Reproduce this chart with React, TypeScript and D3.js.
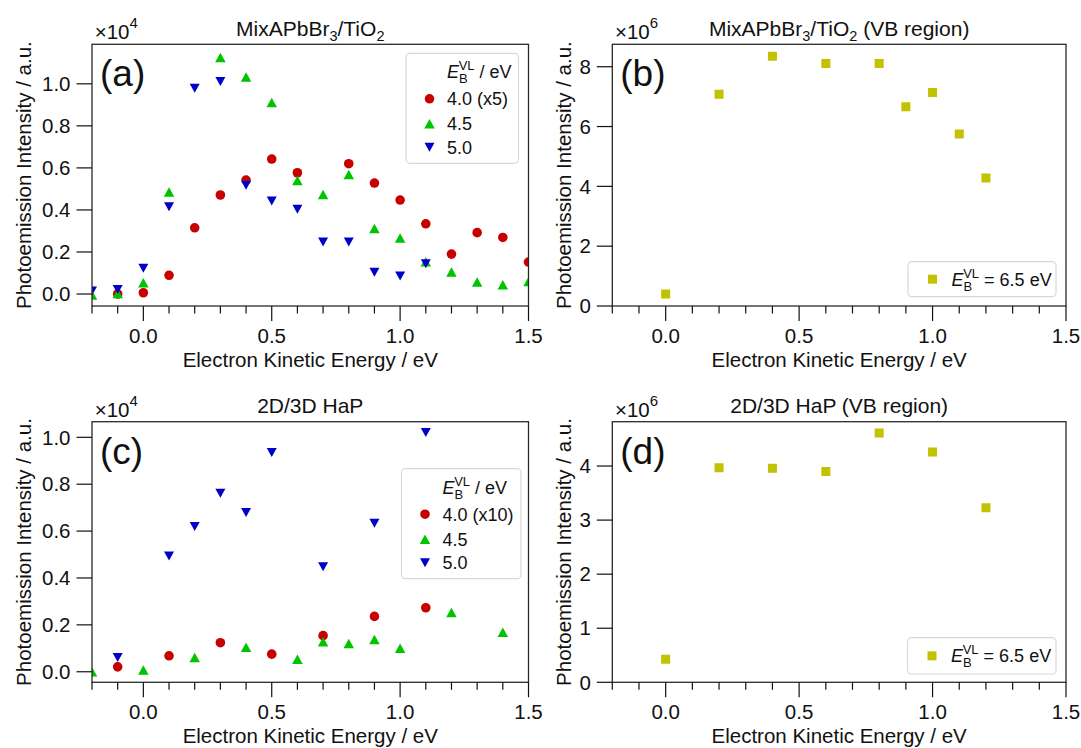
import React from "react";
import * as d3 from "d3";

const FONT = "'Liberation Sans', Arial, Helvetica, sans-serif";

// ---------- data ----------
// Kinetic energy grid for panels (a) and (c)
const energyGrid = [-0.2, -0.1, 0.0, 0.1, 0.2, 0.3, 0.4, 0.5, 0.6, 0.7, 0.8, 0.9, 1.0, 1.1, 1.2, 1.3, 1.4, 1.5];

// Panel (a) MixAPbBr3/TiO2 (units of 1e4)
const aRed40x5 = [null, 0.0, 0.006, 0.089, 0.315, 0.471, 0.542, 0.642, 0.577, null, 0.62, 0.528, 0.447, 0.334, 0.19, 0.292, 0.269, 0.152];
const aGreen45 = [-0.005, 0.003, 0.054, 0.485, null, 1.125, 1.033, 0.911, 0.54, 0.474, 0.569, 0.312, 0.266, 0.154, 0.105, 0.057, 0.044, 0.059];
const aBlue50 = [0.014, 0.021, 0.122, 0.415, 0.979, 1.011, 0.517, 0.442, 0.403, 0.247, 0.247, 0.103, 0.086, 0.144, null, null, null, null];

// Panel (c) 2D/3D HaP (units of 1e4)
const cRed40x10 = [null, 0.021, null, 0.068, null, 0.124, null, 0.075, null, 0.154, null, 0.236, null, 0.273, null, null, null, null];
const cGreen45 = [0.0, null, 0.007, null, 0.061, null, 0.104, null, 0.053, 0.128, 0.121, 0.138, 0.1, null, 0.253, null, 0.169, null];
const cBlue50 = [null, 0.061, null, 0.494, 0.62, 0.761, 0.679, 0.935, null, 0.448, null, 0.633, null, 1.02, null, null, null, null];

// Panel (b) VB region (units of 1e6)
const energyB = [0.0, 0.2, 0.4, 0.6, 0.8, 0.9, 1.0, 1.1, 1.2];
const valuesB = [0.4, 7.08, 8.35, 8.11, 8.11, 6.66, 7.14, 5.75, 4.28];

// Panel (d) VB region (units of 1e6)
const energyD = [0.0, 0.2, 0.4, 0.6, 0.8, 1.0, 1.2];
const valuesD = [0.425, 3.97, 3.96, 3.9, 4.61, 4.26, 3.23];

// ticks
const xMajorTicks = [0.0, 0.5, 1.0, 1.5];
const xMajorLabels = ["0.0", "0.5", "1.0", "1.5"];
const xMinorTicks = [-0.2, -0.1, 0.1, 0.2, 0.3, 0.4, 0.6, 0.7, 0.8, 0.9, 1.1, 1.2, 1.3, 1.4];
const yTicksAC = [0.0, 0.2, 0.4, 0.6, 0.8, 1.0];
const yLabelsAC = ["0.0", "0.2", "0.4", "0.6", "0.8", "1.0"];
const yTicksB = [0, 2, 4, 6, 8];
const yLabelsB = ["0", "2", "4", "6", "8"];
const yTicksD = [0, 1, 2, 3, 4];
const yLabelsD = ["0", "1", "2", "3", "4"];

const RED = "#c80000";
const GREEN = "#00c400";
const BLUE = "#0000c8";
const OLIVE = "#c2c200";

const FS = 20.5;

type Box = { l: number; r: number; t: number; b: number };
type Ser = { xs: number[]; ys: (number | null)[]; color: string; shape: string };

function markerPath(shape: string, cx: number, cy: number): string {
  if (shape === "up") {
    const w = 10.5, h = 9.5;
    return `M${cx},${cy - h / 2}L${cx + w / 2},${cy + h / 2}L${cx - w / 2},${cy + h / 2}Z`;
  }
  if (shape === "down") {
    const w = 10, h = 9;
    return `M${cx - w / 2},${cy - h / 2}L${cx + w / 2},${cy - h / 2}L${cx},${cy + h / 2}Z`;
  }
  if (shape === "square") {
    const s = 9;
    return `M${cx - s / 2},${cy - s / 2}h${s}v${s}h${-s}Z`;
  }
  const p = d3.path();
  p.arc(cx, cy, 4.8, 0, Math.PI * 2);
  return p.toString();
}

function Marker({ shape, color, x, y }: { shape: string; color: string; x: number; y: number }) {
  return <path d={markerPath(shape, x, y)} fill={color} stroke="none" />;
}

function EBLabel({ x, y, tail, size }: { x: number; y: number; tail: string; size: number }) {
  return (
    <text x={x} y={y} fontFamily={FONT} fontSize={size} fill="#111">
      <tspan fontStyle="italic">E</tspan>
      <tspan fontSize={13} dy={5}>B</tspan>
      <tspan fontSize={13} dx={-9} dy={-13}>VL</tspan>
      <tspan dy={8}>{tail}</tspan>
    </text>
  );
}

type PanelProps = {
  id: string;
  box: Box;
  yDomain: [number, number];
  yTicks: number[];
  yLabels: string[];
  series: Ser[];
  title: React.ReactNode;
  expo: string;
  label: string;
  yTitleX: number;
  legend: React.ReactNode;
};

function Panel({ id, box, yDomain, yTicks, yLabels, series, title, expo, label, yTitleX, legend }: PanelProps) {
  const x = d3.scaleLinear().domain([-0.2, 1.5]).range([box.l, box.r]);
  const y = d3.scaleLinear().domain(yDomain).range([box.b, box.t]);
  const cx = (box.l + box.r) / 2;
  const cy = (box.t + box.b) / 2;
  const clipId = `clip-${id}`;
  return (
    <g>
      <defs>
        <clipPath id={clipId}>
          <rect x={box.l} y={box.t} width={box.r - box.l} height={box.b - box.t} />
        </clipPath>
      </defs>
      {/* title */}
      <text x={cx} y={box.t - 8.3} textAnchor="middle" fontFamily={FONT} fontSize={21} fill="#111">
        {title}
      </text>
      {/* exponent */}
      <text x={box.l + 2.7} y={box.t - 5} fontFamily={FONT} fontSize={FS} fill="#111">
        ×10
        <tspan fontSize={15} dy={-11}>{expo}</tspan>
      </text>
      {/* data */}
      <g clipPath={`url(#${clipId})`}>
        {series.map((s, si) =>
          s.xs.map((xv, i) => {
            const yv = s.ys[i];
            if (yv === null || yv === undefined) return null;
            return <Marker key={`${si}-${i}`} shape={s.shape} color={s.color} x={x(xv)} y={y(yv)} />;
          })
        )}
      </g>
      {/* frame */}
      <rect x={box.l} y={box.t} width={box.r - box.l} height={box.b - box.t} fill="none" stroke="#2a2a2a" strokeWidth={1.3} />
      {/* x ticks */}
      {xMajorTicks.map((t, i) => (
        <g key={`xM${i}`}>
          <line x1={x(t)} x2={x(t)} y1={box.b} y2={box.b + 15} stroke="#111" strokeWidth={1.2} />
          <text x={x(t)} y={box.b + 36.5} textAnchor="middle" fontFamily={FONT} fontSize={FS} fill="#111">
            {xMajorLabels[i]}
          </text>
        </g>
      ))}
      {xMinorTicks.map((t, i) => (
        <line key={`xm${i}`} x1={x(t)} x2={x(t)} y1={box.b} y2={box.b + 7.5} stroke="#111" strokeWidth={1.2} />
      ))}
      {/* y ticks */}
      {yTicks.map((t, i) => (
        <g key={`y${i}`}>
          <line x1={box.l - 15.5} x2={box.l} y1={y(t)} y2={y(t)} stroke="#111" strokeWidth={1.2} />
          <text x={box.l - 21.5} y={y(t) + 7.2} textAnchor="end" fontFamily={FONT} fontSize={FS} fill="#111">
            {yLabels[i]}
          </text>
        </g>
      ))}
      {/* axis titles */}
      <text x={cx} y={box.b + 60.5} textAnchor="middle" fontFamily={FONT} fontSize={FS} fill="#111">
        Electron Kinetic Energy / eV
      </text>
      <text
        transform={`translate(${yTitleX},${cy}) rotate(-90)`}
        textAnchor="middle"
        dy="0.36em"
        fontFamily={FONT}
        fontSize={FS}
        fill="#111"
      >
        Photoemission Intensity / a.u.
      </text>
      {/* panel label */}
      <text x={box.l + 8} y={box.t + 42} fontFamily={FONT} fontSize={37} fill="#111">
        {label}
      </text>
      {legend}
    </g>
  );
}

function MultiLegend({ left, top, width, entries }: { left: number; top: number; width: number; entries: { shape: string; color: string; text: string }[] }) {
  const rows = [45.5, 70.5, 94];
  return (
    <g>
      <rect x={left} y={top} width={width} height={110} rx={4} ry={4} fill="#fff" stroke="#d8d8d8" strokeWidth={1.2} />
      <EBLabel x={left + 41} y={top + 25} tail=" / eV" size={18} />
      {entries.map((e, i) => (
        <g key={i}>
          <Marker shape={e.shape} color={e.color} x={left + 23.5} y={top + rows[i]} />
          <text x={left + 41} y={top + rows[i] + 6.5} fontFamily={FONT} fontSize={18} fill="#111">
            {e.text}
          </text>
        </g>
      ))}
    </g>
  );
}

function SingleLegend({ left, top, width, height }: { left: number; top: number; width: number; height: number }) {
  const my = top + height / 2;
  return (
    <g>
      <rect x={left} y={top} width={width} height={height} rx={4} ry={4} fill="#fff" stroke="#d8d8d8" strokeWidth={1.2} />
      <Marker shape="square" color={OLIVE} x={left + 24.5} y={my} />
      <EBLabel x={left + 43.5} y={my + 6.5} tail=" = 6.5 eV" size={18} />
    </g>
  );
}

function TitleMix({ suffix }: { suffix?: string }) {
  return (
    <>
      MixAPbBr
      <tspan fontSize={14.5} dy={5}>3</tspan>
      <tspan dy={-5}>/TiO</tspan>
      <tspan fontSize={14.5} dy={5}>2</tspan>
      <tspan dy={-5}>{suffix ?? ""}</tspan>
    </>
  );
}

export default function App() {
  const boxA: Box = { l: 92, r: 528.5, t: 44.3, b: 306 };
  const boxB: Box = { l: 612.3, r: 1066, t: 44.3, b: 306 };
  const boxC: Box = { l: 92, r: 528.5, t: 421.7, b: 682.3 };
  const boxD: Box = { l: 612.3, r: 1066, t: 421.7, b: 682.3 };

  const seriesA: Ser[] = [
    { xs: energyGrid, ys: aRed40x5, color: RED, shape: "circle" },
    { xs: energyGrid, ys: aGreen45, color: GREEN, shape: "up" },
    { xs: energyGrid, ys: aBlue50, color: BLUE, shape: "down" },
  ];
  const seriesC: Ser[] = [
    { xs: energyGrid, ys: cRed40x10, color: RED, shape: "circle" },
    { xs: energyGrid, ys: cGreen45, color: GREEN, shape: "up" },
    { xs: energyGrid, ys: cBlue50, color: BLUE, shape: "down" },
  ];
  const seriesB: Ser[] = [{ xs: energyB, ys: valuesB, color: OLIVE, shape: "square" }];
  const seriesD: Ser[] = [{ xs: energyD, ys: valuesD, color: OLIVE, shape: "square" }];

  return (
    <svg width={1081} height={748} viewBox="0 0 1081 748" style={{ display: "block", position: "absolute", left: 0, top: 0, background: "#fff" }}>
      <rect x={0} y={0} width={1081} height={748} fill="#fff" />
      <Panel
        id="a"
        box={boxA}
        yDomain={[-0.057, 1.188]}
        yTicks={yTicksAC}
        yLabels={yLabelsAC}
        series={seriesA}
        title={<TitleMix />}
        expo="4"
        label="(a)"
        yTitleX={24}
        legend={
          <MultiLegend
            left={406}
            top={53.3}
            width={112.5}
            entries={[
              { shape: "circle", color: RED, text: "4.0 (x5)" },
              { shape: "up", color: GREEN, text: "4.5" },
              { shape: "down", color: BLUE, text: "5.0" },
            ]}
          />
        }
      />
      <Panel
        id="b"
        box={boxB}
        yDomain={[0, 8.75]}
        yTicks={yTicksB}
        yLabels={yLabelsB}
        series={seriesB}
        title={<TitleMix suffix=" (VB region)" />}
        expo="6"
        label="(b)"
        yTitleX={563.5}
        legend={<SingleLegend left={908} top={261.7} width={148} height={35} />}
      />
      <Panel
        id="c"
        box={boxC}
        yDomain={[-0.045, 1.0666]}
        yTicks={yTicksAC}
        yLabels={yLabelsAC}
        series={seriesC}
        title={<>2D/3D HaP</>}
        expo="4"
        label="(c)"
        yTitleX={24}
        legend={
          <MultiLegend
            left={401.5}
            top={468.7}
            width={119.5}
            entries={[
              { shape: "circle", color: RED, text: "4.0 (x10)" },
              { shape: "up", color: GREEN, text: "4.5" },
              { shape: "down", color: BLUE, text: "5.0" },
            ]}
          />
        }
      />
      <Panel
        id="d"
        box={boxD}
        yDomain={[0, 4.82]}
        yTicks={yTicksD}
        yLabels={yLabelsD}
        series={seriesD}
        title={<>2D/3D HaP (VB region)</>}
        expo="6"
        label="(d)"
        yTitleX={563.5}
        legend={<SingleLegend left={907.5} top={637.7} width={148.5} height={36.3} />}
      />
    </svg>
  );
}
